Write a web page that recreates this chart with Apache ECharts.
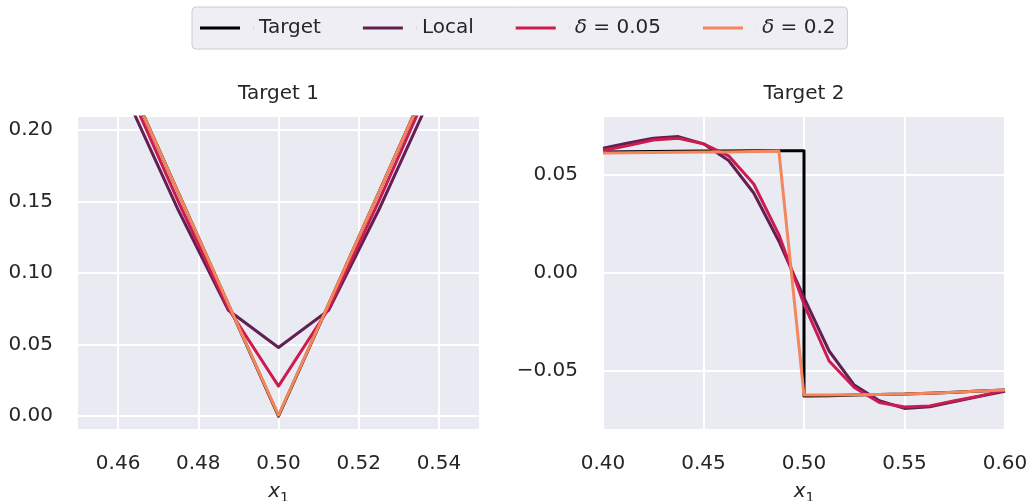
<!DOCTYPE html>
<html>
<head>
<meta charset="utf-8">
<script src="https://cdn.jsdelivr.net/npm/echarts@6.0.0/dist/echarts.min.js"></script>
<style>
  html, body { margin: 0; padding: 0; background: #ffffff; }
  #chart { width: 1030px; height: 501px; }
</style>
</head>
<body>
<div id="chart"></div>
<script>
// ---- Panel 1: V-shaped target around x1 = 0.5 ----
const xs1 = [0.45, 0.4625, 0.475, 0.4875, 0.5, 0.5125, 0.525, 0.5375, 0.55];
const target1 = [0.3125, 0.234375, 0.15625, 0.078125, 0.0, 0.078125, 0.15625, 0.234375, 0.3125];
const local1 = [0.298, 0.2206, 0.144, 0.074, 0.048, 0.074, 0.144, 0.2206, 0.298];
const delta005_1 = [0.307, 0.229, 0.150, 0.075, 0.021, 0.075, 0.150, 0.229, 0.307];
const delta02_1 = [0.3125, 0.2343, 0.1562, 0.0782, 0.0006, 0.0782, 0.1562, 0.2343, 0.3125];

// ---- Panel 2: step target at x1 = 0.5 ----
const xs2 = [0.4, 0.4125, 0.425, 0.4375, 0.45, 0.4625, 0.475, 0.4875, 0.5,
             0.5125, 0.525, 0.5375, 0.55, 0.5625, 0.575, 0.5875, 0.6];
const targetXs2 = [0.4, 0.4125, 0.425, 0.4375, 0.45, 0.4625, 0.475, 0.4875, 0.5,
                   0.5, 0.5125, 0.525, 0.5375, 0.55, 0.5625, 0.575, 0.5875, 0.6];
const target2 = [0.0618, 0.0620, 0.0621, 0.0622, 0.0623, 0.0624, 0.0625, 0.0625, 0.0625,
                 -0.0627, -0.0625, -0.0622, -0.0619, -0.0617, -0.0612, -0.0607, -0.0601, -0.0596];
const local2 = [0.0638, 0.0664, 0.0689, 0.0697, 0.0660, 0.0575, 0.0409, 0.0163, -0.0125,
                -0.0397, -0.0571, -0.0651, -0.0690, -0.0682, -0.0655, -0.0628, -0.0602];
const delta005_2 = [0.0626, 0.0651, 0.0680, 0.0689, 0.0660, 0.0599, 0.0455, 0.0197, -0.0159,
                    -0.0448, -0.0583, -0.0660, -0.0683, -0.0677, -0.0651, -0.0626, -0.0598];
const delta02_2 = [0.0613, 0.0615, 0.0616, 0.0617, 0.0618, 0.0619, 0.0621, 0.0624, -0.0622,
                   -0.0621, -0.0620, -0.0619, -0.0617, -0.0612, -0.0607, -0.0601, -0.0596];

// ---- Axis ticks ----
const xTicks1 = [0.46, 0.48, 0.50, 0.52, 0.54];
const yTicks1 = [0.00, 0.05, 0.10, 0.15, 0.20];
const xTicks2 = [0.40, 0.45, 0.50, 0.55, 0.60];
const yTicks2 = [-0.05, 0.00, 0.05];

const seriesNames = ['Target', 'Local', 'δ = 0.05', 'δ = 0.2'];
const seriesColors = ['#000000', '#611f53', '#cb1b4f', '#f4865c'];
const panelTitles = ['Target 1', 'Target 2'];

const FONT = "'DejaVu Sans', sans-serif";
const TEXT = '#262626';

function pairs(xs, ys) { return xs.map((x, i) => [x, ys[i]]); }
function fmt(v) {
  const s = Math.abs(v).toFixed(2);
  return (v < -1e-9 ? '\u2212' : '') + s;
}

function xAxisOf(gridIndex, min, max, ticks) {
  return {
    type: 'value', gridIndex, min, max,
    axisLine: { show: false },
    axisTick: { show: false, customValues: ticks },
    axisLabel: { customValues: ticks, formatter: fmt, fontSize: 20, color: TEXT, fontFamily: FONT, margin: 25 },
    splitLine: { show: true, lineStyle: { color: '#ffffff', width: 2 } },
    name: '{i|x}{s|1}',
    nameLocation: 'middle',
    nameGap: 50,
    nameTextStyle: {
      rich: {
        i: { fontStyle: 'italic', fontSize: 20, color: TEXT, fontFamily: FONT },
        s: { fontSize: 14, color: TEXT, fontFamily: FONT, padding: [12, 0, 0, 0] }
      }
    }
  };
}
function yAxisOf(gridIndex, min, max, ticks) {
  return {
    type: 'value', gridIndex, min, max,
    axisLine: { show: false },
    axisTick: { show: false, customValues: ticks },
    axisLabel: { customValues: ticks, formatter: fmt, fontSize: 20, color: TEXT, fontFamily: FONT, margin: 25, padding: [4, 0, 0, 0] },
    splitLine: { show: true, lineStyle: { color: '#ffffff', width: 2 } }
  };
}

const panelData = [
  [pairs(xs1, target1), pairs(xs1, local1), pairs(xs1, delta005_1), pairs(xs1, delta02_1)],
  [pairs(targetXs2, target2), pairs(xs2, local2), pairs(xs2, delta005_2), pairs(xs2, delta02_2)]
];

const series = [];
panelData.forEach((lines, p) => {
  lines.forEach((data, k) => {
    series.push({
      type: 'line',
      name: seriesNames[k],
      xAxisIndex: p, yAxisIndex: p,
      data,
      symbol: 'none',
      clip: true,
      animation: false,
      z: 2 + k,
      itemStyle: { color: seriesColors[k] },
      lineStyle: { color: seriesColors[k], width: 3, join: 'round', cap: 'butt' },
      emphasis: { disabled: true }
    });
  });
});

const gridBase = { top: 117, height: 312, show: true, backgroundColor: '#eaeaf2', borderWidth: 0, containLabel: false, outerBoundsMode: 'none' };

const chart = echarts.init(document.getElementById('chart'), null, { renderer: 'canvas' });
chart.setOption({
  backgroundColor: '#ffffff',
  animation: false,
  textStyle: { fontFamily: FONT },
  grid: [
    Object.assign({ left: 78, width: 401 }, gridBase),
    Object.assign({ left: 603, width: 402 }, gridBase)
  ],
  xAxis: [xAxisOf(0, 0.45, 0.55, xTicks1), xAxisOf(1, 0.4, 0.6, xTicks2)],
  yAxis: [yAxisOf(0, -0.009, 0.209, yTicks1), yAxisOf(1, -0.0795, 0.0797, yTicks2)],
  legend: {
    left: 192, top: 7,
    data: seriesNames,
    icon: 'path://M0,0H40V3H0Z M53.9,0H54V3H53.9Z',
    itemWidth: 54, itemHeight: 3,
    itemGap: 42,
    padding: [11, 12, 11, 8],
    backgroundColor: '#eeeef4',
    borderColor: '#cccccc', borderWidth: 1, borderRadius: 4,
    itemStyle: { borderWidth: 0 },
    lineStyle: { width: 0 },
    selectedMode: false,
    textStyle: {
      fontSize: 20, color: TEXT, fontFamily: FONT,
      rich: { i: { fontStyle: 'italic', fontSize: 20, color: TEXT, fontFamily: FONT } }
    },
    formatter: name => name.startsWith('δ') ? '{i|δ}' + name.slice(1) : name
  },
  graphic: panelTitles.map((t, i) => ({
    type: 'text',
    x: i === 0 ? 278.5 : 804,
    y: 94,
    style: { text: t, fill: TEXT, font: "20px 'DejaVu Sans'", textAlign: 'center', textVerticalAlign: 'middle' }
  })),
  series
});
</script>
</body>
</html>
